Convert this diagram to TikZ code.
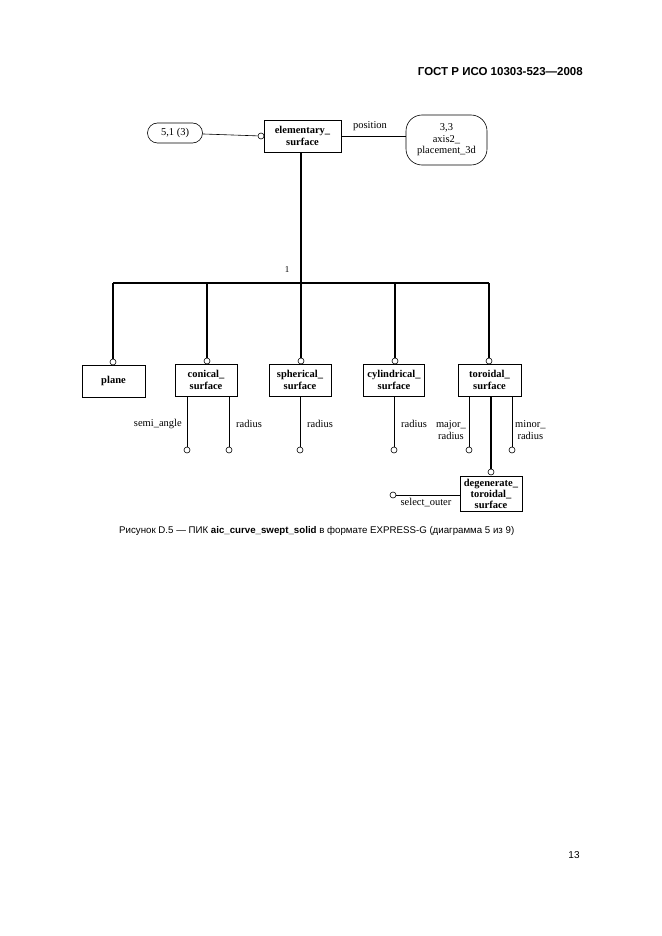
\documentclass[tikz,border=0pt]{standalone}
\usepackage{fontspec}
\setmainfont{Liberation Serif}
\newfontfamily\capfont{Liberation Sans}
\begin{document}
\begin{tikzpicture}[x=1pt,y=-1pt,
  ent/.style={draw, line width=0.6pt, align=center, inner sep=1pt, minimum height=32pt, font=\fontsize{10.5}{12.5}\selectfont\bfseries},
  typ/.style={draw, line width=0.6pt, rounded corners=10pt, align=center, inner sep=2pt, font=\fontsize{10.5}{11}\selectfont},
  oc/.style={draw, circle, inner sep=0pt, minimum size=6pt, line width=0.6pt, fill=white},
  thn/.style={line width=0.6pt},
  thk/.style={line width=1.6pt},
  lbl/.style={font=\fontsize{10.5}{12}\selectfont, inner sep=0pt, align=center}]
\useasboundingbox (0,0) rectangle (661,936);
% header
\node[font=\capfont\bfseries\fontsize{11.5}{13}\selectfont, anchor=east, inner sep=0pt] (hdr) at (583,72) {ГОСТ Р ИСО 10303-523—2008};
% top part
\node[ent, minimum width=77pt] (elem) at (302.5,136) {elementary\_\\surface};
\node[typ, minimum width=55pt, minimum height=20pt] (p51) at (175,133) {5,1 (3)};
\node[oc] (c51) at (261,136) {};
\draw[thn] (p51) -- (c51);
\node[typ, minimum width=81pt, minimum height=50pt, rounded corners=16pt, font=\fontsize{10.5}{11.5}\selectfont] (ax) at (446.5,140) {3,3\\axis2\_\\placement\_3d};
\draw[thn] (elem.east) -- (elem.east -| ax.west);
\node[lbl, anchor=south] (pos) at (370,131) {position};
% trunk and bus
\coordinate (bL) at (113,283);
\coordinate (bR) at (489,283);
\coordinate (bM) at (301,283);
\draw[thk] (elem.south -| bM) -- (bM);
\draw[thk] (bL) -- (bR);
\node[lbl, font=\fontsize{9}{10}\selectfont] (one) at (287,270) {1};
% subtypes
\node[ent, minimum width=63pt] (plane) at (113.5,381) {plane};
\node[ent, minimum width=62pt] (con) at (206,380) {conical\_\\surface};
\node[ent, minimum width=62pt] (sph) at (300,380) {spherical\_\\surface};
\node[ent, minimum width=61pt] (cyl) at (394,380) {cylindrical\_\\surface};
\node[ent, minimum width=63pt] (tor) at (489.5,380) {toroidal\_\\surface};
\node[oc] (cpl) at (113,362) {};
\node[oc] (cco) at (207,361) {};
\node[oc] (csp) at (301,361) {};
\node[oc] (ccy) at (395,361) {};
\node[oc] (cto) at (489,361) {};
\draw[thk] (bL) -- (cpl);
\draw[thk] (bL -| cco) -- (cco);
\draw[thk] (bM) -- (csp);
\draw[thk] (bM -| ccy) -- (ccy);
\draw[thk] (bR) -- (cto);
% attributes
\node[oc] (a1) at (187,450) {};
\node[oc] (a2) at (229,450) {};
\node[oc] (a3) at (300,450) {};
\node[oc] (a4) at (394,450) {};
\node[oc] (a5) at (469,450) {};
\node[oc] (a6) at (512,450) {};
\draw[thn] (con.south -| a1) -- (a1);
\draw[thn] (con.south -| a2) -- (a2);
\draw[thn] (sph.south -| a3) -- (a3);
\draw[thn] (cyl.south -| a4) -- (a4);
\draw[thn] (tor.south -| a5) -- (a5);
\draw[thn] (tor.south -| a6) -- (a6);
\node[lbl, anchor=east] (l1) at (182,424) {semi\_angle};
\node[lbl, anchor=west] (l2) at (236,424) {radius};
\node[lbl, anchor=west] (l3) at (307,424) {radius};
\node[lbl, anchor=west] (l4) at (401,424) {radius};
\node[lbl, anchor=east] (l5) at (466,430) {major\_\\radius};
\node[lbl, anchor=west] (l6) at (515,430) {minor\_\\radius};
% degenerate
\node[ent, minimum width=62pt, minimum height=35pt, font=\fontsize{10.5}{11}\selectfont\bfseries] (deg) at (491,493.5) {degenerate\_\\toroidal\_\\surface};
\node[oc] (cdg) at (491,472) {};
\draw[thk] (tor.south -| cdg) -- (cdg);
\node[oc] (a7) at (393,495) {};
\draw[thn] (deg.west |- a7) -- (a7);
\node[lbl, anchor=center] (l7) at (426,503) {select\_outer};
% caption
\node[font=\capfont\fontsize{9.7}{11}\selectfont, anchor=west, inner sep=0pt] (cap) at (119,531) {Рисунок D.5 — ПИК \textbf{aic\_curve\_swept\_solid} в формате EXPRESS-G (диаграмма 5 из 9)};
\node[font=\capfont\fontsize{10}{11}\selectfont, inner sep=0pt] (pg) at (574,855) {13};
\end{tikzpicture}
\end{document}
